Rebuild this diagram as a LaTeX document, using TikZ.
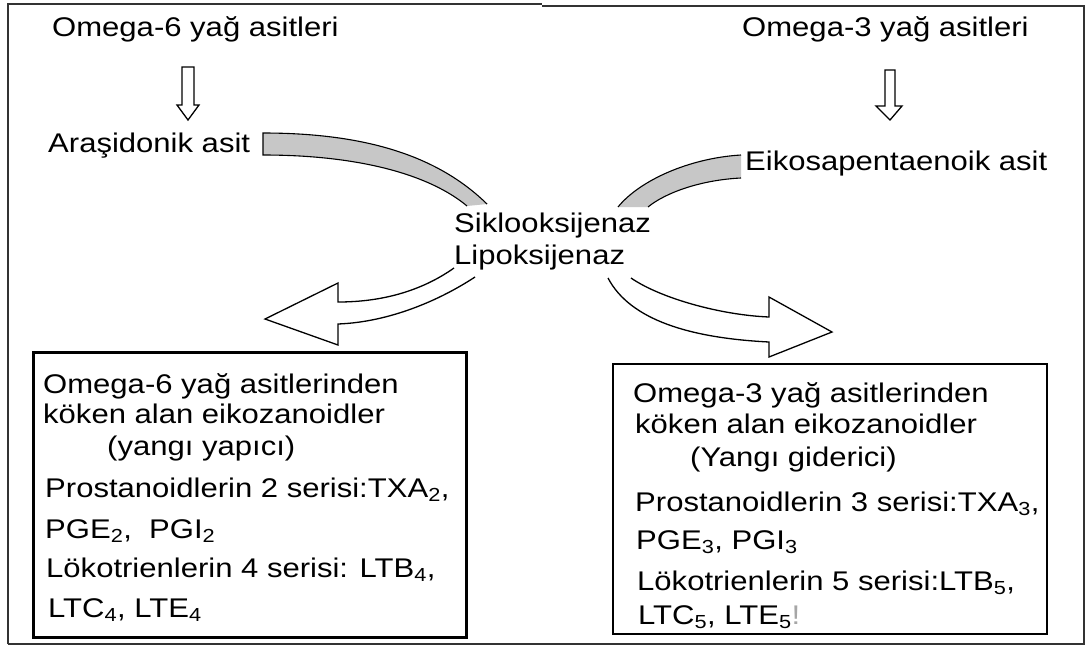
\documentclass[tikz,border=0pt]{standalone}
\usepackage{fontspec}
\setmainfont{Liberation Sans}[FakeStretch=1.15]
\begin{document}
\begin{tikzpicture}[x=1pt,y=-1pt,
  lbl/.style={anchor=base west, inner sep=0pt, font=\fontsize{27}{30}\selectfont},
  band/.style={fill=black!22},
  bandedge/.style={draw=black, line width=1.1pt},
  blockarrow/.style={draw=black, fill=white, line width=1.3pt, line join=miter},
  frame/.style={draw=black!80, line width=1.5pt},
  lbox/.style={draw=black, line width=3pt},
  rbox/.style={draw=black, line width=2pt}]
\useasboundingbox (0,0) rectangle (1086,646);
\fill[white] (0,0) rectangle (1086,646);
% outer frame
\draw[frame] (8,644) -- (8,4) -- (542,4);
\draw[frame] (542,6) -- (1084,6) -- (1084,644) -- (8,644);
% top labels
\node[lbl] (o6) at (52,36) {Omega-6 yağ asitleri};
\node[lbl] (o3) at (742,36) {Omega-3 yağ asitleri};
\node[lbl] (ara) at (48,152) {Araşidonik asit};
\node[lbl] (eik) at (745,170) {Eikosapentaenoik asit};
\node[lbl] (sik) at (454,232) {Siklooksijenaz};
\node[lbl] (lip) at (454,264) {Lipoksijenaz};
% down arrows
\draw[blockarrow] (182,67) -- (182,105) -- (177,105) -- (188,120) -- (199,105) -- (194,105) -- (194,67) -- cycle;
\draw[blockarrow] (885,70) -- (885,106) -- (876,106) -- (890,120) -- (902,106) -- (895,106) -- (895,70) -- cycle;
% gray bands
\fill[band] (263,133) .. controls (370,133) and (440,158) .. (487,204) -- (467,206) .. controls (430,175) and (360,155) .. (263,155) -- cycle;
\draw[bandedge] (487,204) .. controls (440,158) and (370,133) .. (263,133) -- (263,155) .. controls (360,155) and (430,175) .. (467,206);
\fill[band] (741,155) .. controls (690,158) and (640,180) .. (618,207) -- (648,207) .. controls (665,193) and (700,180) .. (741,178) -- cycle;
\draw[bandedge] (741,155) .. controls (690,158) and (640,180) .. (618,207);
\draw[bandedge] (741,178) .. controls (700,180) and (665,193) .. (648,207);
% white curved arrows
\fill[white] (454,268) .. controls (420,292) and (380,302) .. (338,302) -- (338,283) -- (265,319) -- (338,345) -- (338,324) .. controls (390,322) and (440,300) .. (475,277) -- cycle;
\draw[blockarrow, fill=none] (454,268) .. controls (420,292) and (380,302) .. (338,302) -- (338,283) -- (265,319) -- (338,345) -- (338,324) .. controls (390,322) and (440,300) .. (475,277);
\fill[white] (631,278) .. controls (660,298) and (720,315) .. (769,317) -- (769,297) -- (832,332) -- (769,357) -- (769,342) .. controls (690,338) and (630,320) .. (608,278) -- cycle;
\draw[blockarrow, fill=none] (631,278) .. controls (660,298) and (720,315) .. (769,317) -- (769,297) -- (832,332) -- (769,357) -- (769,342) .. controls (690,338) and (630,320) .. (608,278);
% boxes
\node[lbox, minimum width=433pt, minimum height=285pt, inner sep=0pt] (leftbox) at (249.5,494.5) {};
\node[rbox, minimum width=434pt, minimum height=270pt, inner sep=0pt] (rightbox) at (830,499) {};
% left box text
\node[lbl] (l1) at (43,393) {Omega-6 yağ asitlerinden};
\node[lbl] (l2) at (43,423) {köken alan eikozanoidler};
\node[lbl] (l3) at (107,455) {(yangı yapıcı)};
\node[lbl] (l4) at (45,497) {Prostanoidlerin 2 serisi:TXA\textsubscript{2},};
\node[lbl] (l5) at (45,538) {PGE\textsubscript{2},\ \ PGI\textsubscript{2}};
\node[lbl] (l6) at (46,577) {Lökotrienlerin 4 serisi: LTB\textsubscript{4},};
\node[lbl] (l7) at (48,617) {LTC\textsubscript{4}, LTE\textsubscript{4}};
% right box text
\node[lbl] (r1) at (633,402) {Omega-3 yağ asitlerinden};
\node[lbl] (r2) at (635,433) {köken alan eikozanoidler};
\node[lbl] (r3) at (690,466) {(Yangı giderici)};
\node[lbl] (r4) at (635,511) {Prostanoidlerin 3 serisi:TXA\textsubscript{3},};
\node[lbl] (r5) at (636,549) {PGE\textsubscript{3}, PGI\textsubscript{3}};
\node[lbl] (r6) at (637,590) {Lökotrienlerin 5 serisi:LTB\textsubscript{5},};
\node[lbl] (r7) at (638,624) {LTC\textsubscript{5}, LTE\textsubscript{5}\textcolor{black!35}{!}};
\end{tikzpicture}
\end{document}
